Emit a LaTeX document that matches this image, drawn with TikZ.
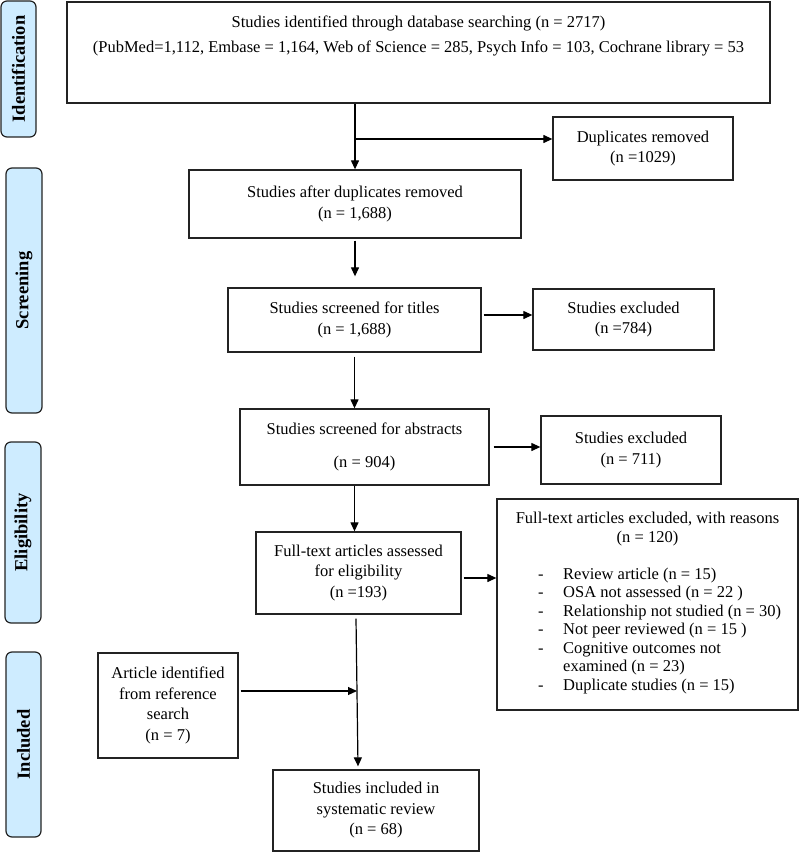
\documentclass[tikz,border=0pt]{standalone}
\usepackage{fontspec}
\setmainfont{Liberation Serif}
\usetikzlibrary{arrows.meta}
\definecolor{phase}{RGB}{206,236,255}
\definecolor{edge}{RGB}{35,35,35}
\tikzset{
  box/.style={draw=edge, line width=1.3pt, inner sep=0pt, align=center,
    font=\fontsize{16.5}{20.5}\selectfont},
  txt/.style={inner sep=0pt, font=\fontsize{16.5}{18.5}\selectfont},
  phasebox/.style={draw=edge, fill=phase, line width=1.2pt, rounded corners=6pt,
    font=\fontsize{18.5}{22}\selectfont\bfseries, rotate=90, inner sep=0pt},
  arr/.style={draw=black, line width=1.2pt, -{Triangle[length=9pt,width=8pt]}},
  ln/.style={draw=black, line width=1.2pt}
}
\begin{document}
\begin{tikzpicture}[x=1pt,y=-1pt]
\useasboundingbox (0,0) rectangle (800,853);
% phase labels
\node[phasebox, minimum width=136pt, minimum height=35pt] (pid) at (18.5,69) {Identification};
\node[phasebox, minimum width=245pt, minimum height=36pt] (psc) at (24,290.5) {Screening};
\node[phasebox, minimum width=181pt, minimum height=36pt] (pel) at (23,532.5) {Eligibility};
\node[phasebox, minimum width=185pt, minimum height=35pt] (pin) at (23.5,744.5) {Included};
% boxes
\node[box, minimum width=703pt, minimum height=101pt] (top) at (418.5,52.5) {};
\node[txt, align=center, font=\fontsize{16.5}{25}\selectfont] (toptext) at (418.5,36)
  {Studies identified through database searching (n = 2717)\\(PubMed=1,112, Embase = 1,164, Web of Science = 285, Psych Info = 103, Cochrane library = 53};
\node[box, minimum width=180pt, minimum height=63pt] (dup) at (643,148.5) {Duplicates removed\\(n =1029)};
\node[box, minimum width=332pt, minimum height=68pt] (after) at (355,204) {Studies after duplicates removed\\(n = 1,688)};
\node[box, minimum width=253pt, minimum height=64pt] (titles) at (354.5,320) {Studies screened for titles\\(n = 1,688)};
\node[box, minimum width=181pt, minimum height=61pt] (exa) at (623.5,319.5) {Studies excluded\\(n =784)};
\node[box, minimum width=249pt, minimum height=76pt] (abs) at (364.5,447) {Studies screened for abstracts\\[13pt](n = 904)};
\node[box, minimum width=180pt, minimum height=68pt] (exb) at (631,450) {Studies excluded\\(n = 711)};
\node[box, minimum width=205pt, minimum height=82pt] (full) at (358.5,573) {Full-text articles assessed\\for eligibility\\(n =193)};
\node[box, minimum width=301pt, minimum height=211pt] (excl) at (647.5,604.5) {};
\node[txt, align=center] (exhead) at (647.5,529) {Full-text articles excluded, with reasons\\(n = 120)};
\node[txt, align=left, anchor=west] (exlist) at (538,631)
  {\makebox[25pt][l]{-}Review article (n = 15)\\
   \makebox[25pt][l]{-}OSA not assessed (n = 22 )\\
   \makebox[25pt][l]{-}Relationship not studied (n = 30)\\
   \makebox[25pt][l]{-}Not peer reviewed (n = 15 )\\
   \makebox[25pt][l]{-}Cognitive outcomes not\\
   \hspace*{25pt}examined (n = 23)\\
   \makebox[25pt][l]{-}Duplicate studies (n = 15)};
\node[box, minimum width=140pt, minimum height=105pt] (ref) at (168,705.5) {Article identified\\from reference\\search\\(n = 7)};
\node[box, minimum width=206pt, minimum height=81pt] (final) at (376,810.5) {Studies included in\\systematic review\\(n = 68)};
% connectors
\coordinate (br) at (355,139);
\coordinate (jn) at (357,691);
\draw[arr] (top.south -| after.north) -- (after.north);
\draw[arr] (br) -- (br -| dup.west);
\draw[arr] ([yshift=-2pt]after.south) -- ([yshift=11pt]after.south |- titles.north);
\draw[arr] ([xshift=2pt,yshift=5pt]titles.east) -- ([yshift=5pt]titles.east -| exa.west);
\draw[arr] ([yshift=-4pt]titles.south) -- (titles.south |- abs.north);
\draw[arr] ([xshift=4pt]abs.east) -- (abs.east -| exb.west);
\draw[arr] (abs.south -| titles.south) -- (full.north -| titles.south);
\draw[arr] ([xshift=2pt,yshift=-5pt]full.east) -- ([yshift=-5pt]full.east -| excl.west);
\draw[arr] ([xshift=-2.5pt,yshift=-4pt]full.south) -- ([xshift=-18pt,yshift=3pt]final.north);
\draw[arr] ([xshift=2pt]ref.east |- jn) -- (jn);
\end{tikzpicture}
\end{document}
